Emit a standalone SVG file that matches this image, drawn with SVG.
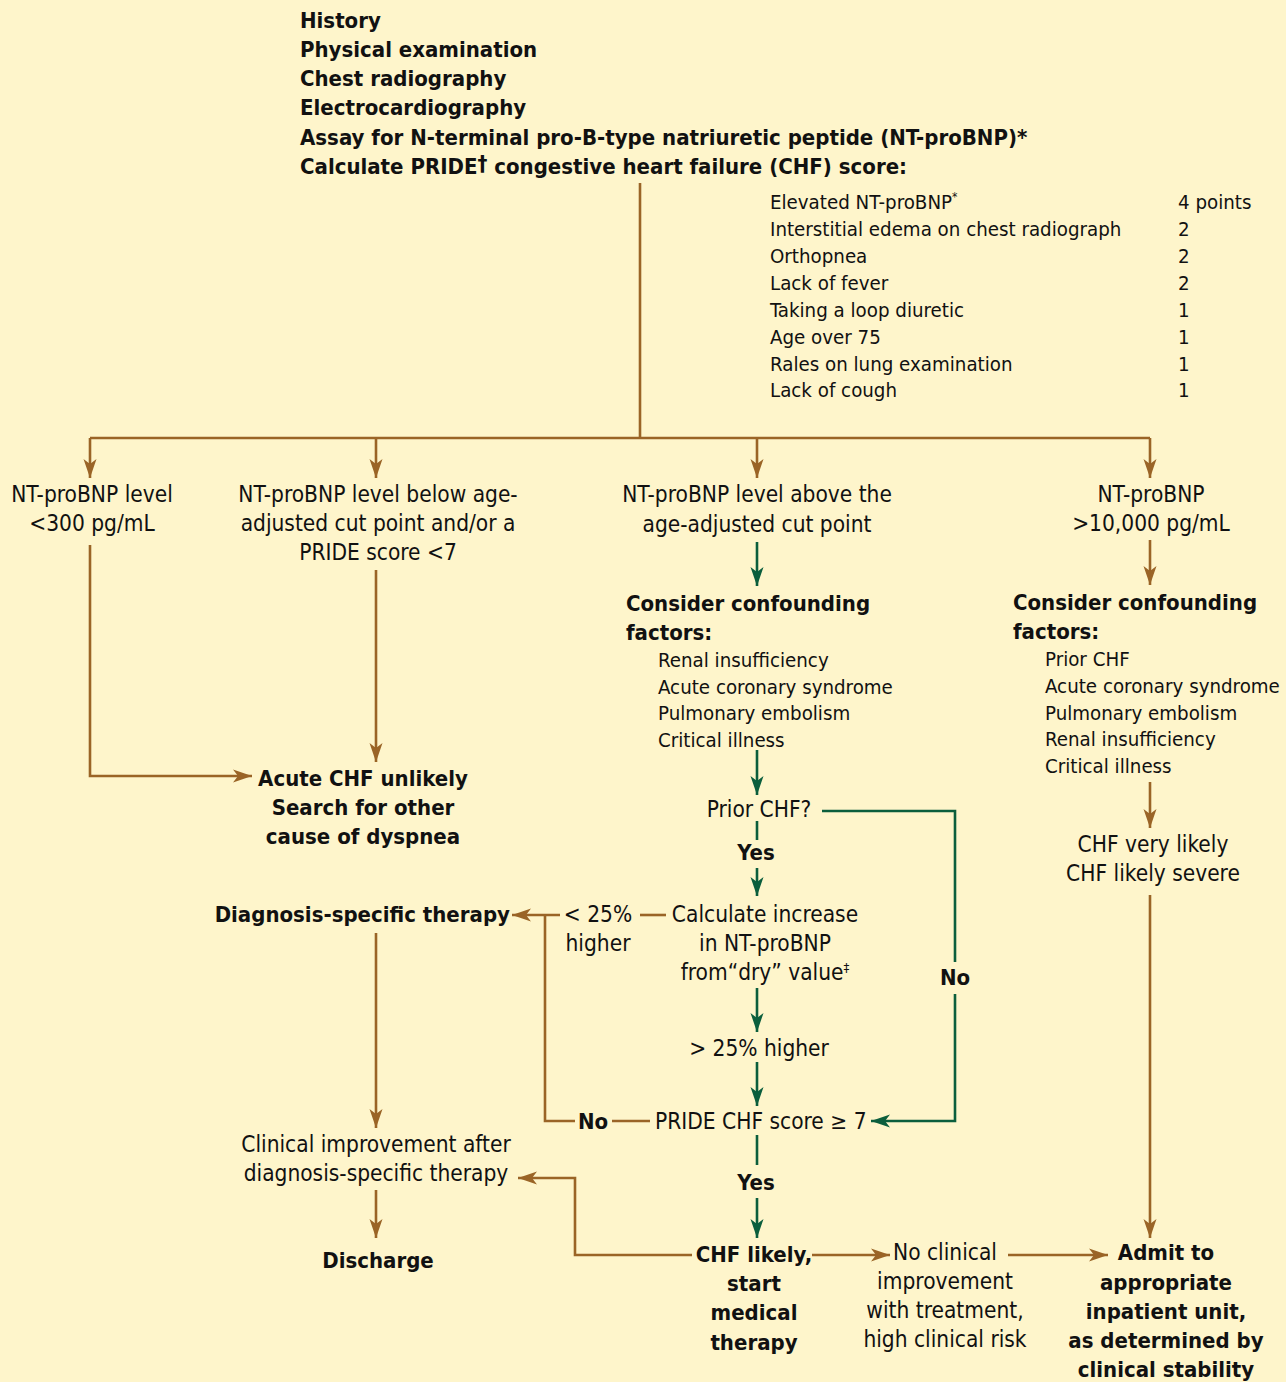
<svg xmlns="http://www.w3.org/2000/svg" width="1286" height="1382" viewBox="0 0 1286 1382">
<defs>
<style>
text { font-family: "DejaVu Sans Condensed", "Liberation Sans", sans-serif; fill: #111; }
.b { font-weight: bold; font-size: 22px; }
.r { font-size: 22.5px; }
.s { font-size: 20.3px; }
.m { text-anchor: middle; }
.e { text-anchor: end; }
.br { fill: none; stroke: #9A6426; stroke-width: 2.6; }
.gr { fill: none; stroke: #0B5E3C; stroke-width: 2.6; }
.ab { marker-end: url(#ahB); }
.ag { marker-end: url(#ahG); }
</style>
<marker id="ahB" markerUnits="userSpaceOnUse" markerWidth="20" markerHeight="14" viewBox="0 -7 20 14" refX="19" refY="0" orient="auto">
<path d="M0,-6.5 L19,0 L0,6.5 L5,0 z" fill="#9A6426"/>
</marker>
<marker id="ahG" markerUnits="userSpaceOnUse" markerWidth="20" markerHeight="14" viewBox="0 -7 20 14" refX="19" refY="0" orient="auto">
<path d="M0,-6.5 L19,0 L0,6.5 L5,0 z" fill="#0B5E3C"/>
</marker>
</defs>
<rect x="0" y="0" width="1286" height="1382" fill="#FEF5CB"/>

<g id="connectors">
<path class="br" d="M640,183 V438"/>
<path class="br" d="M90,438 H1150"/>
<path class="br ab" d="M90,438 V478"/>
<path class="br ab" d="M376,438 V478"/>
<path class="br ab" d="M757,438 V478"/>
<path class="br ab" d="M1150,438 V478"/>
<path class="br ab" d="M90,545 V776 H252"/>
<path class="br ab" d="M376,570 V762"/>
<path class="gr ag" d="M757,542 V586"/>
<path class="gr ag" d="M757,750 V795"/>
<path class="gr" d="M822,811 H955 V962"/>
<path class="gr ag" d="M955,994 V1121 H871"/>
<path class="gr" d="M757,821 V840"/>
<path class="gr ag" d="M757,868 V896"/>
<path class="br" d="M666,915 H640"/>
<path class="br ab" d="M560,915 H512"/>
<path class="br" d="M545,915 V1121 H575"/>
<path class="br" d="M612,1121 H650"/>
<path class="gr ag" d="M757,988 V1032"/>
<path class="gr ag" d="M757,1062 V1106"/>
<path class="gr" d="M757,1135 V1165"/>
<path class="gr ag" d="M757,1198 V1238"/>
<path class="br ab" d="M692,1255 H575 V1178 H518"/>
<path class="br ab" d="M812,1255 H890"/>
<path class="br ab" d="M1008,1255 H1108"/>
<path class="br ab" d="M1150,540 V585"/>
<path class="br ab" d="M1150,782 V828"/>
<path class="br ab" d="M1150,895 V1238"/>
<path class="br ab" d="M376,933 V1128"/>
<path class="br ab" d="M376,1190 V1238"/>
</g>

<g id="workup">
<text class="b" x="300" y="28">History</text>
<text class="b" x="300" y="57">Physical examination</text>
<text class="b" x="300" y="86">Chest radiography</text>
<text class="b" x="300" y="115">Electrocardiography</text>
<text class="b" x="300" y="145">Assay for N-terminal pro-B-type natriuretic peptide (NT-proBNP)*</text>
<text class="b" x="300" y="174">Calculate PRIDE<tspan dy="-3">†</tspan><tspan dy="3"> congestive heart failure (CHF) score:</tspan></text>
</g>

<g id="pride-table">
<text class="s" x="770" y="209">Elevated NT-proBNP<tspan dy="-8" font-size="12">*</tspan></text>
<text class="s" x="770" y="236">Interstitial edema on chest radiograph</text>
<text class="s" x="770" y="263">Orthopnea</text>
<text class="s" x="770" y="290">Lack of fever</text>
<text class="s" x="770" y="317">Taking a loop diuretic</text>
<text class="s" x="770" y="344">Age over 75</text>
<text class="s" x="770" y="371">Rales on lung examination</text>
<text class="s" x="770" y="397">Lack of cough</text>
<text class="s" x="1178" y="209">4 points</text>
<text class="s" x="1178" y="236">2</text>
<text class="s" x="1178" y="263">2</text>
<text class="s" x="1178" y="290">2</text>
<text class="s" x="1178" y="317">1</text>
<text class="s" x="1178" y="344">1</text>
<text class="s" x="1178" y="371">1</text>
<text class="s" x="1178" y="397">1</text>
</g>

<g id="lt300">
<text class="r m" x="92" y="502">NT-proBNP level</text>
<text class="r m" x="92" y="531">&lt;300 pg/mL</text>
</g>

<g id="below-cut">
<text class="r m" x="378" y="502">NT-proBNP level below age-</text>
<text class="r m" x="378" y="531">adjusted cut point and/or a</text>
<text class="r m" x="378" y="560">PRIDE score &lt;7</text>
</g>

<g id="above-cut">
<text class="r m" x="757" y="502">NT-proBNP level above the</text>
<text class="r m" x="757" y="532">age-adjusted cut point</text>
</g>

<g id="gt10000">
<text class="r m" x="1151" y="502">NT-proBNP</text>
<text class="r m" x="1151" y="531">&gt;10,000 pg/mL</text>
</g>

<g id="chf-unlikely">
<text class="b m" x="363" y="786">Acute CHF unlikely</text>
<text class="b m" x="363" y="815">Search for other</text>
<text class="b m" x="363" y="844">cause of dyspnea</text>
</g>

<g id="confounders-mid">
<text class="b" x="626" y="611">Consider confounding</text>
<text class="b" x="626" y="640">factors:</text>
<text class="s" x="658" y="667">Renal insufficiency</text>
<text class="s" x="658" y="694">Acute coronary syndrome</text>
<text class="s" x="658" y="720">Pulmonary embolism</text>
<text class="s" x="658" y="747">Critical illness</text>
</g>

<g id="confounders-right">
<text class="b" x="1013" y="610">Consider confounding</text>
<text class="b" x="1013" y="639">factors:</text>
<text class="s" x="1045" y="666">Prior CHF</text>
<text class="s" x="1045" y="693">Acute coronary syndrome</text>
<text class="s" x="1045" y="720">Pulmonary embolism</text>
<text class="s" x="1045" y="746">Renal insufficiency</text>
<text class="s" x="1045" y="773">Critical illness</text>
</g>

<g id="prior-chf">
<text class="r m" x="759" y="817">Prior CHF?</text>
</g>
<g id="labels">
<text class="b m" x="756" y="860">Yes</text>
<text class="b m" x="955" y="985">No</text>
<text class="b m" x="593" y="1129">No</text>
<text class="b m" x="756" y="1190">Yes</text>
</g>

<g id="calc-increase">
<text class="r m" x="765" y="922">Calculate increase</text>
<text class="r m" x="765" y="951">in NT-proBNP</text>
<text class="r m" x="765" y="980">from“dry” value<tspan dy="-8" font-size="13">‡</tspan></text>
</g>

<g id="lt25">
<text class="r m" x="598" y="922">&lt; 25%</text>
<text class="r m" x="598" y="951">higher</text>
</g>

<g id="dx-therapy">
<text class="b e" x="510" y="922">Diagnosis-specific therapy</text>
</g>

<g id="gt25">
<text class="r m" x="759" y="1056">&gt; 25% higher</text>
</g>

<g id="pride-score">
<text class="r" x="655" y="1129">PRIDE CHF score ≥ 7</text>
</g>

<g id="chf-very-likely">
<text class="r m" x="1153" y="852">CHF very likely</text>
<text class="r m" x="1153" y="881">CHF likely severe</text>
</g>

<g id="clinical-improvement">
<text class="r m" x="376" y="1152">Clinical improvement after</text>
<text class="r m" x="376" y="1181">diagnosis-specific therapy</text>
</g>

<g id="discharge">
<text class="b m" x="378" y="1268">Discharge</text>
</g>

<g id="chf-likely">
<text class="b m" x="754" y="1262">CHF likely,</text>
<text class="b m" x="754" y="1291">start</text>
<text class="b m" x="754" y="1320">medical</text>
<text class="b m" x="754" y="1350">therapy</text>
</g>

<g id="no-improvement">
<text class="r m" x="945" y="1260">No clinical</text>
<text class="r m" x="945" y="1289">improvement</text>
<text class="r m" x="945" y="1318">with treatment,</text>
<text class="r m" x="945" y="1347">high clinical risk</text>
</g>

<g id="admit">
<text class="b m" x="1166" y="1260">Admit to</text>
<text class="b m" x="1166" y="1290">appropriate</text>
<text class="b m" x="1166" y="1319">inpatient unit,</text>
<text class="b m" x="1166" y="1348">as determined by</text>
<text class="b m" x="1166" y="1377">clinical stability</text>
</g>
</svg>
